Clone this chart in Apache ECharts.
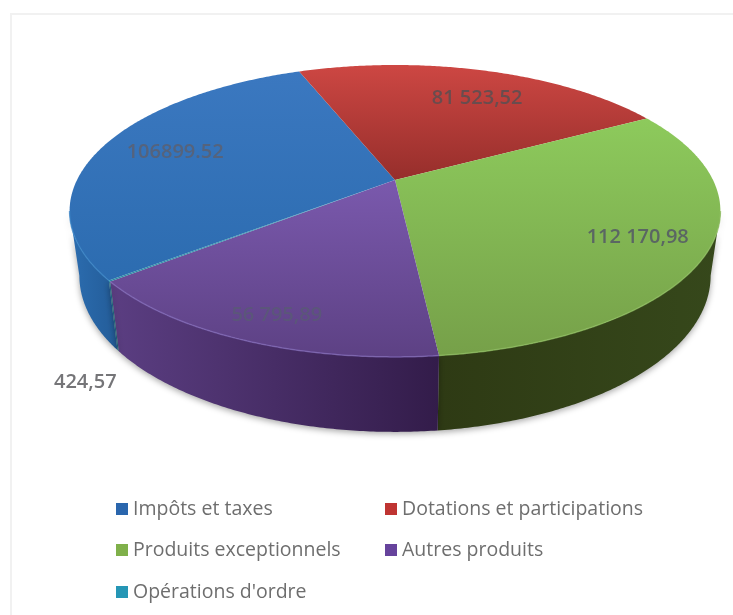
<!DOCTYPE html>
<html>
<head>
<meta charset="utf-8">
<style>html,body{margin:0;padding:0;background:#fff}#chart{width:733px;height:615px}</style>
<script src="https://cdn.jsdelivr.net/npm/echarts@6/dist/echarts.min.js"></script>
</head>
<body>
<div id="chart"></div>
<script>
const categories = ["Impôts et taxes", "Dotations et participations", "Produits exceptionnels", "Autres produits", "Opérations d'ordre"];
const values = [106899.52, 81523.52, 112170.98, 56795.89, 424.57];
const valueLabels = ["106899.52", "81 523,52", "112 170,98", "56 795,89", "424,57"];
const topColors = [["#3b78c0", "#2c6cb0"], ["#cd4743", "#962e2b"], ["#8dca5c", "#76a049"], ["#7a59ad", "#5d4184"], ["#2f9bb8", "#2a8aa4"]];
const wallColors = [["#2c6db0", "#235c98"], ["#7a2826", "#5a1c1b"], ["#2e3a14", "#36481b"], ["#5b3e82", "#331c4a"], ["#1f6a80", "#1a5a6c"]];
const rimColors = ["#3a86c8", "#c04a46", "#8fbf60", "#8068b8", "#40a8c4"];
const legendColors = ["#2a66ad", "#bf3432", "#7fb04a", "#66439c", "#2596b5"];
const labelColors = ["#55637c", "#694c4e", "#5a6663", "#5b567a", "#757578"];
const labelRadius = [0.752, 0.734, 0.797, 0.861, 1.338];
const labelAngle = [286.2, 23.7, 118.2, 201, 213.8];

const START_DEG = 231.3, CX = 395, AY = 180, RX = 318, RY = 139.4, K = 0.212;
const BOTTOM_SX = 0.97, BOTTOM_SY = 1.07, BOTTOM_DY = 50;
const WALL_FROM = Math.acos(-K) * 180 / Math.PI, WALL_TO = 360 - WALL_FROM;
const total = values.reduce((a, b) => a + b, 0);

function project(deg, r) {
  const t = deg * Math.PI / 180;
  const u = r * Math.sin(t), v = r * Math.cos(t), w = 1 + K * v;
  return [CX + RX * u / w, AY - RY * v / w];
}
function lower(p) {
  return [CX + BOTTOM_SX * (p[0] - CX), BOTTOM_SY * p[1] + BOTTOM_DY];
}
function arc(a, b) {
  const pts = [], n = Math.max(2, Math.ceil(Math.abs(b - a) * 2));
  for (let i = 0; i <= n; i++) pts.push(project(a + (b - a) * i / n, 1));
  return pts;
}
function grad(c, horizontal) {
  return new echarts.graphic.LinearGradient(0, 0, horizontal ? 1 : 0, horizontal ? 0 : 1,
    [{ offset: 0, color: c[0] }, { offset: 1, color: c[1] }]);
}
function renderSlice(params, api) {
  const i = params.seriesIndex;
  const before = values.slice(0, i).reduce((a, b) => a + b, 0);
  const a = START_DEG + before / total * 360;
  const b = a + api.value(0) / total * 360;
  const children = [];
  [0, 360].forEach(shift => {
    const a1 = Math.max(a - shift, WALL_FROM), b1 = Math.min(b - shift, WALL_TO);
    if (b1 > a1) {
      const top = arc(a1, b1);
      const bottom = top.map(lower).reverse();
      children.push({
        type: 'polygon', z2: 1,
        shape: { points: top.concat(bottom) },
        style: { fill: grad(wallColors[i], true), shadowBlur: 6, shadowColor: 'rgba(0,0,0,0.35)', shadowOffsetY: 2 }
      });
      children.push({
        type: 'polyline', z2: 3,
        shape: { points: top },
        style: { fill: 'none', stroke: rimColors[i], lineWidth: 1.5, opacity: 0.7 }
      });
    }
  });
  children.push({
    type: 'polygon', z2: 2,
    shape: { points: [project(0, 0)].concat(arc(a, b)) },
    style: { fill: grad(topColors[i], false) }
  });
  const lp = project(labelAngle[i], labelRadius[i]);
  children.push({
    type: 'text', z2: 4, x: lp[0], y: lp[1],
    style: { text: valueLabels[i], align: 'center', verticalAlign: 'middle',
      fill: labelColors[i], font: '600 20px "Open Sans", sans-serif' }
  });
  return { type: 'group', children };
}

const chart = echarts.init(document.getElementById('chart'), null, { renderer: 'canvas' });
const legendSpots = [[116, 499], [385, 499], [116, 540], [385, 540], [116, 582]];
chart.setOption({
  animation: false,
  backgroundColor: '#ffffff',
  graphic: [{
    type: 'rect', z: -1,
    shape: { x: 11, y: 14, width: 780, height: 660 },
    style: { fill: '#fff', stroke: '#f1f1f1', lineWidth: 2 }
  }],
  legend: categories.map((name, i) => ({
    data: [name], left: legendSpots[i][0], top: legendSpots[i][1], padding: 0,
    itemWidth: 12, itemHeight: 12, icon: 'rect', selectedMode: false,
    textStyle: { color: '#6e6e6e', fontSize: 19.5, fontFamily: '"Open Sans", sans-serif' }
  })),
  series: categories.map((name, i) => ({
    type: 'custom', name, coordinateSystem: 'none', silent: true,
    itemStyle: { color: legendColors[i] },
    data: [[values[i]]],
    renderItem: renderSlice
  }))
});
</script>
</body>
</html>
